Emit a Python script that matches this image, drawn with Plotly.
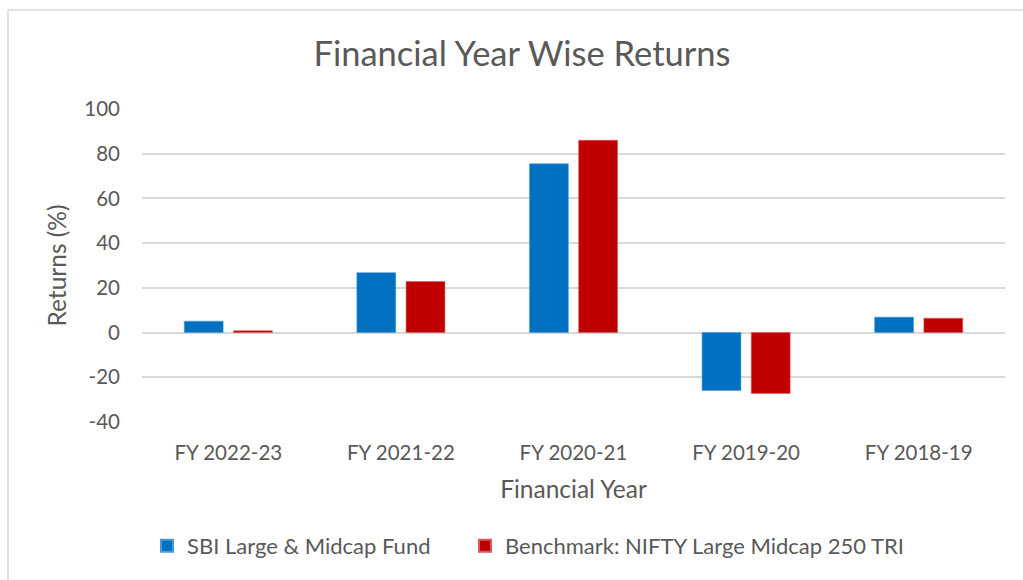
import plotly.graph_objects as go

categories = ["FY 2022-23", "FY 2021-22", "FY 2020-21", "FY 2019-20", "FY 2018-19"]
fund_name = "SBI Large & Midcap Fund"
bench_name = "Benchmark: NIFTY Large Midcap 250 TRI"
fund_returns = [5.1, 26.8, 75.5, -25.9, 6.9]
bench_returns = [0.8, 22.8, 86.0, -27.2, 6.4]
y_ticks = [-40, -20, 0, 20, 40, 60, 80, 100]
y_tick_text = [str(v) for v in y_ticks]

FONT = "Lato, Calibri, Carlito, sans-serif"
GRID = "#d9d9d9"
TXT = "#595959"

fig = go.Figure()
fig.add_trace(go.Bar(x=categories, y=fund_returns, name=fund_name, legend="legend",
                     marker=dict(color="#0070C0", line=dict(color="#4a9ad6", width=0.6))))
fig.add_trace(go.Bar(x=categories, y=bench_returns, name=bench_name, legend="legend2",
                     marker=dict(color="#C00000", line=dict(color="#d85a5a", width=0.6))))

L, R, T, B = 142, 18, 109, 158
W, H = 1023, 580
pw = W - L - R
ph = H - T - B

leg_common = dict(orientation="h", xanchor="left", y=-(546 - (H - B)) / ph, yanchor="middle",
                  font=dict(size=22, color=TXT, family=FONT), itemsizing="constant",
                  bgcolor="rgba(0,0,0,0)")

fig.update_layout(
    width=W, height=H,
    margin=dict(l=L, r=R, t=T, b=B),
    paper_bgcolor="white", plot_bgcolor="white",
    barmode="group", bargap=0.43, bargroupgap=0.21,
    font=dict(family=FONT, color=TXT, size=20),
    title=dict(text="Financial Year Wise Returns", x=522 / W, xanchor="center",
               y=1 - 54 / H, yanchor="middle",
               font=dict(size=34.5, color=TXT, family=FONT)),
    showlegend=True,
    legend=dict(x=(147 - L) / pw, **leg_common),
    legend2=dict(x=(465 - L) / pw, **leg_common),
    xaxis=dict(title=dict(text="Financial Year", font=dict(size=24.5, color=TXT), standoff=18),
               showgrid=False, showline=False, ticks="", tickfont=dict(size=20.5, color=TXT),
               ticklabelstandoff=16),
    yaxis=dict(title=dict(text="Returns (%)", font=dict(size=24.5, color=TXT), standoff=10),
               range=[-40, 100], tickvals=y_ticks, ticktext=y_tick_text,
               showgrid=True, gridcolor=GRID, gridwidth=1.5,
               zeroline=True, zerolinecolor=GRID, zerolinewidth=1.5, showline=False, ticks="",
               tickfont=dict(size=20.5, color=TXT), ticklabelstandoff=21),
)

fig.add_shape(type="rect", xref="paper", yref="paper",
              x0=(8 - L) / pw, x1=(W + 20 - L) / pw,
              y0=-(H + 20 - (H - B)) / ph, y1=1 + (T - 10) / ph,
              line=dict(color=GRID, width=1.5), fillcolor="rgba(0,0,0,0)", layer="below")

fig.write_html("out.html")
